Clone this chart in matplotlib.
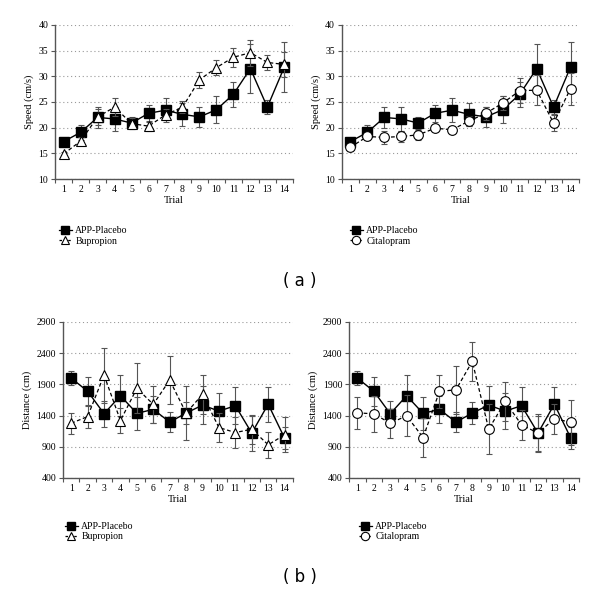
import numpy as np
import matplotlib.pyplot as plt
from matplotlib.lines import Line2D

trials = np.arange(1, 15)

# speed (cm/s)
speed_placebo = [17.3, 19.1, 22.0, 21.7, 20.9, 22.8, 23.4, 22.6, 22.1, 23.5, 26.5, 31.5, 24.0, 31.8]
speed_placebo_err = [0.5, 1.5, 2.0, 2.3, 1.1, 1.6, 2.3, 2.2, 2.0, 2.6, 2.4, 4.7, 1.3, 4.9]
speed_bupropion = [14.9, 17.4, 22.1, 24.0, 20.8, 20.3, 22.5, 24.0, 29.3, 31.7, 33.7, 34.6, 32.7, 32.3]
speed_bupropion_err = [0.4, 0.8, 1.6, 1.8, 1.0, 1.0, 1.1, 1.2, 1.5, 1.5, 1.8, 2.5, 1.4, 2.5]
speed_citalopram = [16.2, 18.3, 18.1, 18.3, 18.6, 19.9, 19.6, 21.3, 22.8, 24.8, 27.2, 27.3, 20.9, 27.6]
speed_citalopram_err = [0.5, 0.6, 1.2, 1.1, 0.9, 0.6, 0.7, 1.0, 1.3, 1.4, 2.4, 2.9, 1.6, 3.1]

# distance (cm)
dist_placebo = [2000, 1790, 1430, 1718, 1435, 1500, 1295, 1440, 1568, 1472, 1558, 1120, 1582, 1038]
dist_placebo_err = [110, 230, 210, 330, 270, 220, 155, 180, 300, 290, 300, 280, 280, 180]
dist_bupropion = [1277, 1384, 2049, 1320, 1836, 1580, 1969, 1440, 1740, 1208, 1128, 1181, 932, 1091]
dist_bupropion_err = [170, 180, 440, 200, 400, 300, 390, 430, 310, 230, 250, 230, 210, 280]
dist_citalopram = [1444, 1428, 1278, 1396, 1048, 1787, 1813, 2268, 1182, 1626, 1251, 1120, 1348, 1294]
dist_citalopram_err = [260, 290, 230, 330, 310, 270, 380, 310, 400, 320, 240, 300, 240, 360]

plt.rcParams['font.family'] = ['Liberation Serif', 'DejaVu Serif']

fig = plt.figure(figsize=(6, 5.93), dpi=100)

gray = '#555555'


def panel(rect, ylim, yticks, ylabel, placebo, placebo_err, drug, drug_err,
          marker, drug_name, legend_xy):
    ax = fig.add_axes(rect)
    ax.yaxis.grid(True, linestyle=(0, (1, 2.5)), color='#999999', linewidth=0.8)
    ax.set_axisbelow(True)
    ax.errorbar(trials, placebo, yerr=placebo_err, color='black', ecolor=gray,
                elinewidth=0.8, capsize=2.5, capthick=0.8, marker='s', ms=7,
                mfc='black', mec='black', lw=1.0, zorder=3)
    ax.errorbar(trials, drug, yerr=drug_err, color='black', ecolor=gray,
                elinewidth=0.8, capsize=2.5, capthick=0.8, marker=marker, ms=7,
                mfc='white', mec='black', mew=0.8, lw=0.9, ls=(0, (3, 2)), zorder=4)
    ax.set_xlim(0.5, 14.5)
    ax.set_ylim(*ylim)
    ax.set_yticks(yticks)
    ax.set_xticks(np.arange(0.5, 15, 1))
    ax.set_xticklabels([])
    ax.set_xticks(trials, minor=True)
    ax.set_xticklabels([str(t) for t in trials], minor=True)
    ax.tick_params(axis='x', which='minor', length=0, labelsize=7, pad=4)
    ax.tick_params(axis='x', which='major', length=3, color=gray, direction='out')
    ax.tick_params(axis='y', length=3, color=gray, labelsize=7, pad=2)
    for s in ['top', 'right']:
        ax.spines[s].set_visible(False)
    for s in ['left', 'bottom']:
        ax.spines[s].set_color(gray)
        ax.spines[s].set_linewidth(1.0)
    ax.set_xlabel('Trial', fontsize=7.5, labelpad=2)
    ax.set_ylabel(ylabel, fontsize=7.5, labelpad=3)
    h1 = Line2D([], [], color='black', lw=0.9, marker='s', ms=6, mfc='black', mec='black')
    h2 = Line2D([], [], color='black', lw=0.9, ls=(0, (2, 1.5)), marker=marker, ms=6,
                mfc='white', mec='black', mew=0.8)
    fig.legend([h1, h2], ['APP-Placebo', drug_name], loc='upper left',
               bbox_to_anchor=legend_xy, frameon=False, fontsize=7,
               handlelength=1.3, handletextpad=0.4, labelspacing=0.15,
               borderpad=0)
    return ax


panel([0.092, 0.698, 0.396, 0.260], (10, 40), range(10, 41, 5), 'Speed (cm/s)',
      speed_placebo, speed_placebo_err, speed_bupropion, speed_bupropion_err,
      '^', 'Bupropion', (0.090, 0.627))
panel([0.570, 0.698, 0.395, 0.260], (10, 40), range(10, 41, 5), 'Speed (cm/s)',
      speed_placebo, speed_placebo_err, speed_citalopram, speed_citalopram_err,
      'o', 'Citalopram', (0.575, 0.627))
panel([0.105, 0.194, 0.383, 0.263], (400, 2900), range(400, 2901, 500), 'Distance (cm)',
      dist_placebo, dist_placebo_err, dist_bupropion, dist_bupropion_err,
      '^', 'Bupropion', (0.100, 0.128))
panel([0.582, 0.194, 0.383, 0.263], (400, 2900), range(400, 2901, 500), 'Distance (cm)',
      dist_placebo, dist_placebo_err, dist_citalopram, dist_citalopram_err,
      'o', 'Citalopram', (0.590, 0.128))

fig.text(0.5, 1 - 281 / 593, '( a )', ha='center', va='center', fontsize=12,
         family=['DejaVu Sans'])
fig.text(0.5, 1 - 577 / 593, '( b )', ha='center', va='center', fontsize=12,
         family=['DejaVu Sans'])

fig.savefig('out.png', dpi=100)
